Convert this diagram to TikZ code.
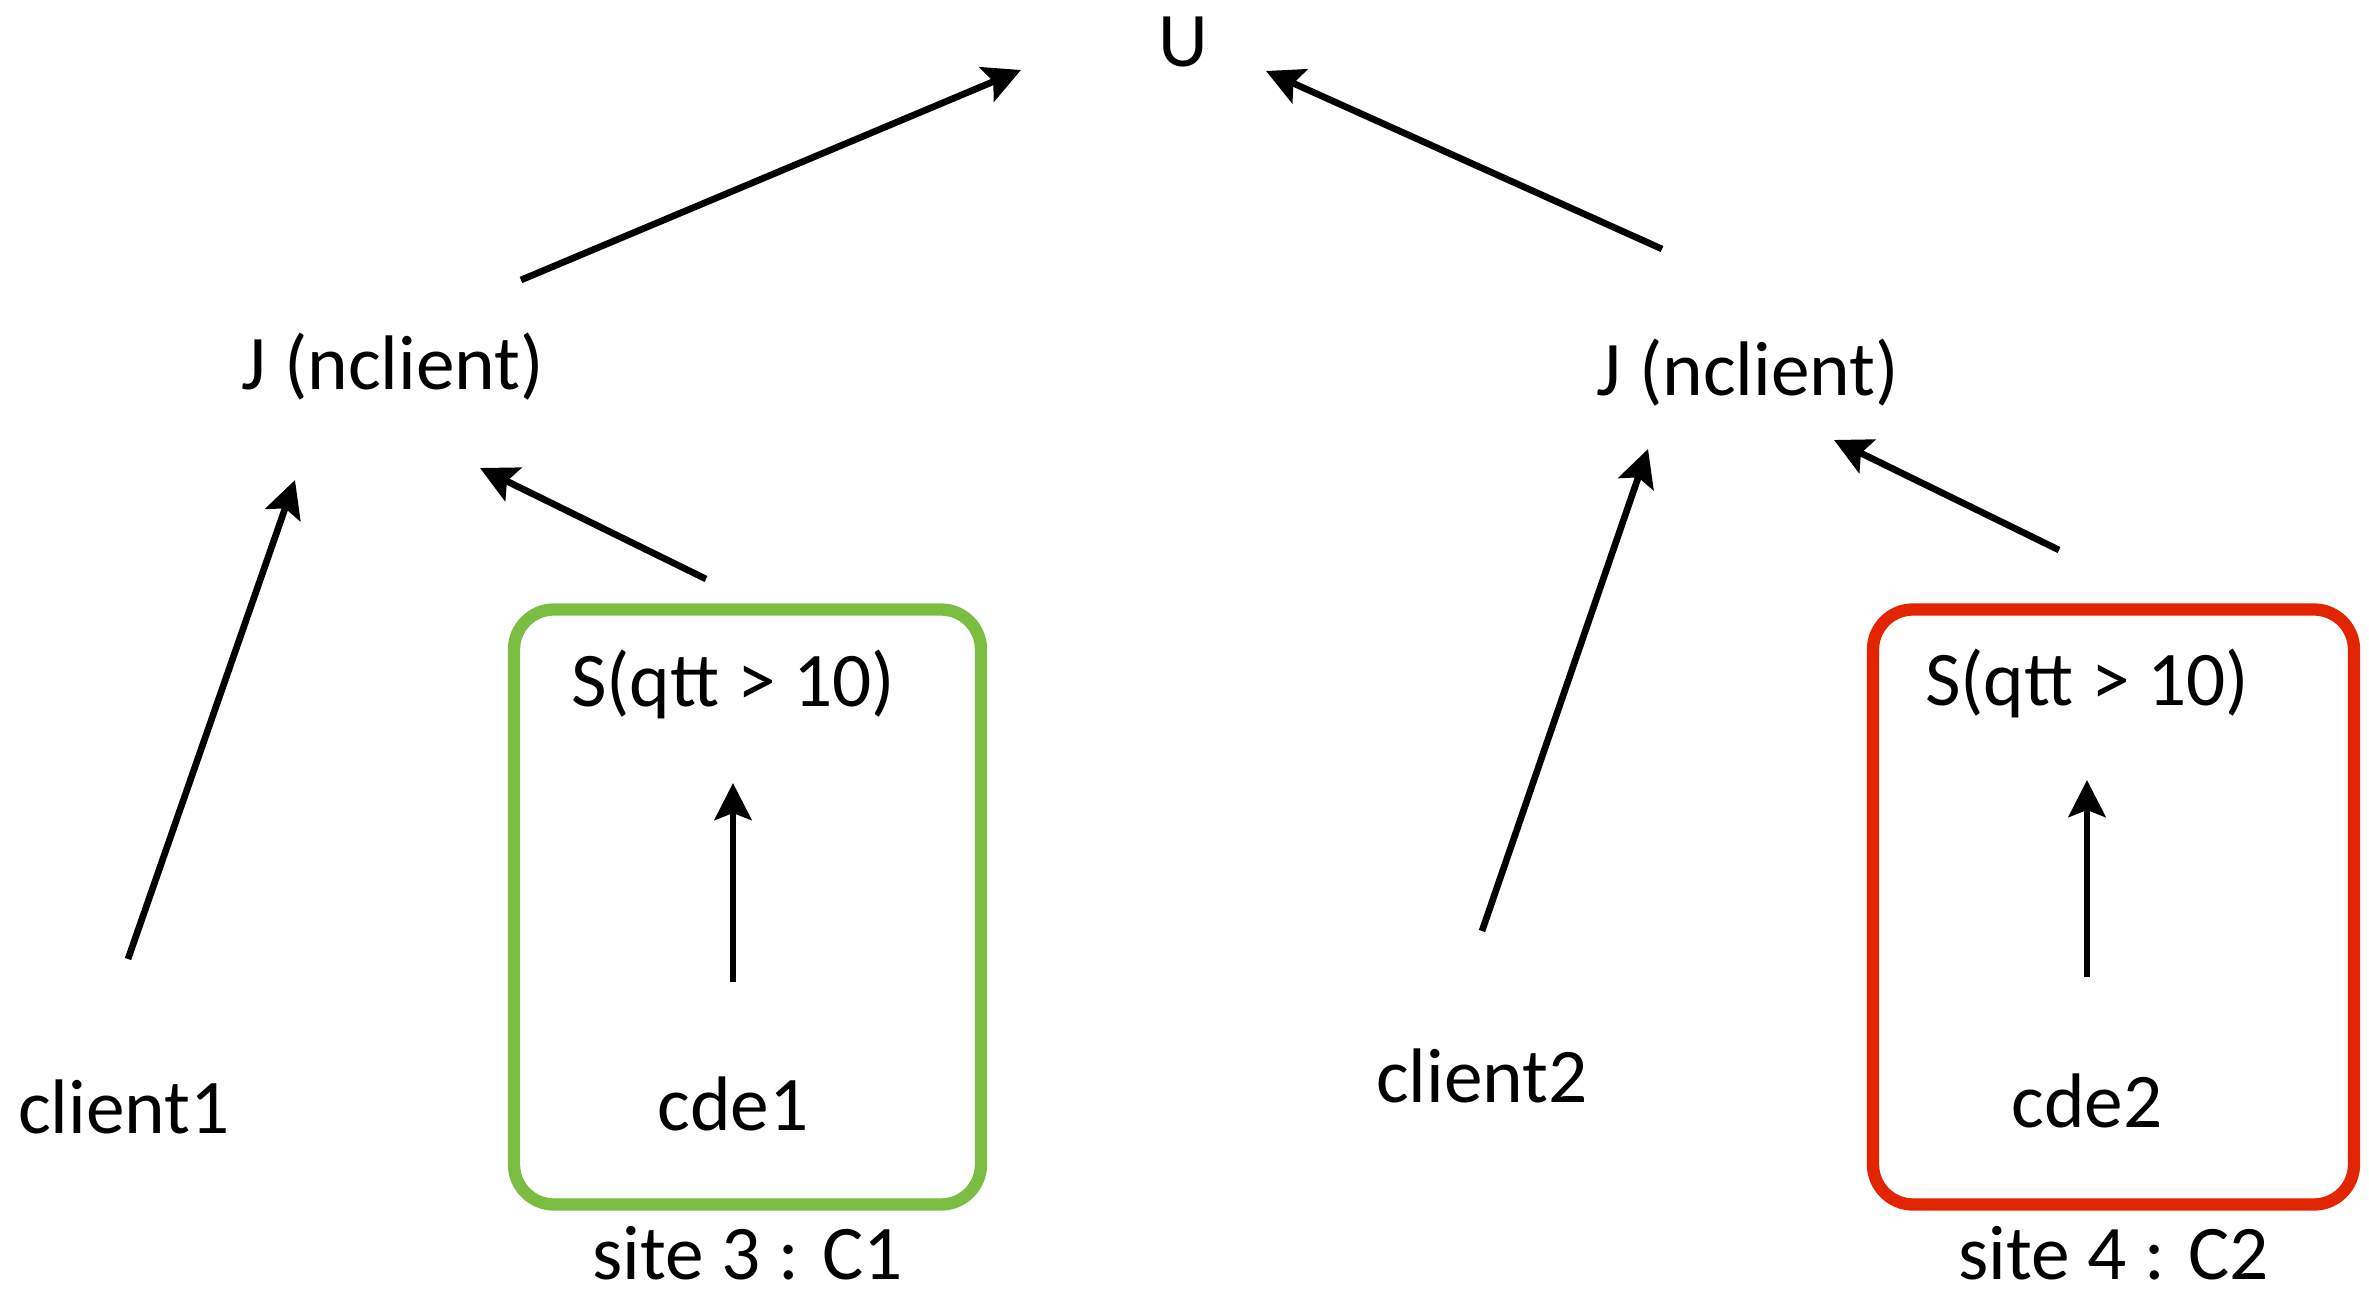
\documentclass[tikz,border=0pt]{standalone}
\usepackage{fontspec}
\setmainfont{Carlito}
\usetikzlibrary{arrows.meta}
\usetikzlibrary{positioning}

\definecolor{sitegreen}{RGB}{123,189,66}
\definecolor{sitered}{RGB}{226,36,0}

\tikzset{
  op/.style={font=\fontsize{22}{26}\selectfont, inner sep=2pt},
  flow/.style={line width=1.9pt, -{Stealth[length=0.37cm,width=0.37cm,inset=0.07cm]}},
  site/.style={draw, line width=3.5pt, rounded corners=0.4cm, minimum width=#1, minimum height=5.95cm},
}

\begin{document}
\begin{tikzpicture}
  \useasboundingbox (0,0) rectangle (23.69,-12.94);

  % sites
  \node[site=4.67cm, sitegreen] (box1) at (7.475,-9.07) {};
  \node[site=4.81cm, sitered] (box2) at (21.135,-9.07) {};
  \node[op, below=0.08cm of box1] (lab1) {site 3 : C1};
  \node[op, below=0.08cm of box2] (lab2) {site 4 : C2};

  % operators
  \node[op] (u) at (11.83,-0.42) {U};
  \node[op] (jl) at (3.93,-3.67) {J (nclient)};
  \node[op] (jr) at (17.48,-3.73) {J (nclient)};
  \node[op] (s1) at (7.33,-6.84) {S(qtt > 10)};
  \node[op] (s2) at (20.87,-6.83) {S(qtt > 10)};

  % relations
  \node[op] (c1) at (1.24,-11.07) {client1};
  \node[op] (c2) at (14.82,-10.76) {client2};
  \node[op] (d1) at (7.33,-11.04) {cde1};
  \node[op] (d2) at (20.87,-11.01) {cde2};

  \draw[flow] ([shift={(1.28,0.87)}]jl.center) -- ([shift={(-1.62,-0.28)}]u.center);
  \draw[flow] ([shift={(-0.86,1.24)}]jr.center) -- ([shift={(0.83,-0.29)}]u.center);
  \draw[flow] ([shift={(0.04,1.48)}]c1.center) -- ([shift={(-0.98,-1.13)}]jl.center);
  \draw[flow] ([shift={(-0.27,1.05)}]s1.center) -- ([shift={(0.87,-1.01)}]jl.center);
  \draw[flow] ([shift={(0,1.45)}]c2.center) -- ([shift={(-1.00,-0.76)}]jr.center);
  \draw[flow] ([shift={(-0.28,1.33)}]s2.center) -- ([shift={(0.86,-0.67)}]jr.center);
  \draw[flow,shorten <=1.22cm,shorten >=0.99cm] (d1.center) -- (s1.center);
  \draw[flow,shorten <=1.24cm,shorten >=0.97cm] (d2.center) -- (s2.center);
\end{tikzpicture}
\end{document}
